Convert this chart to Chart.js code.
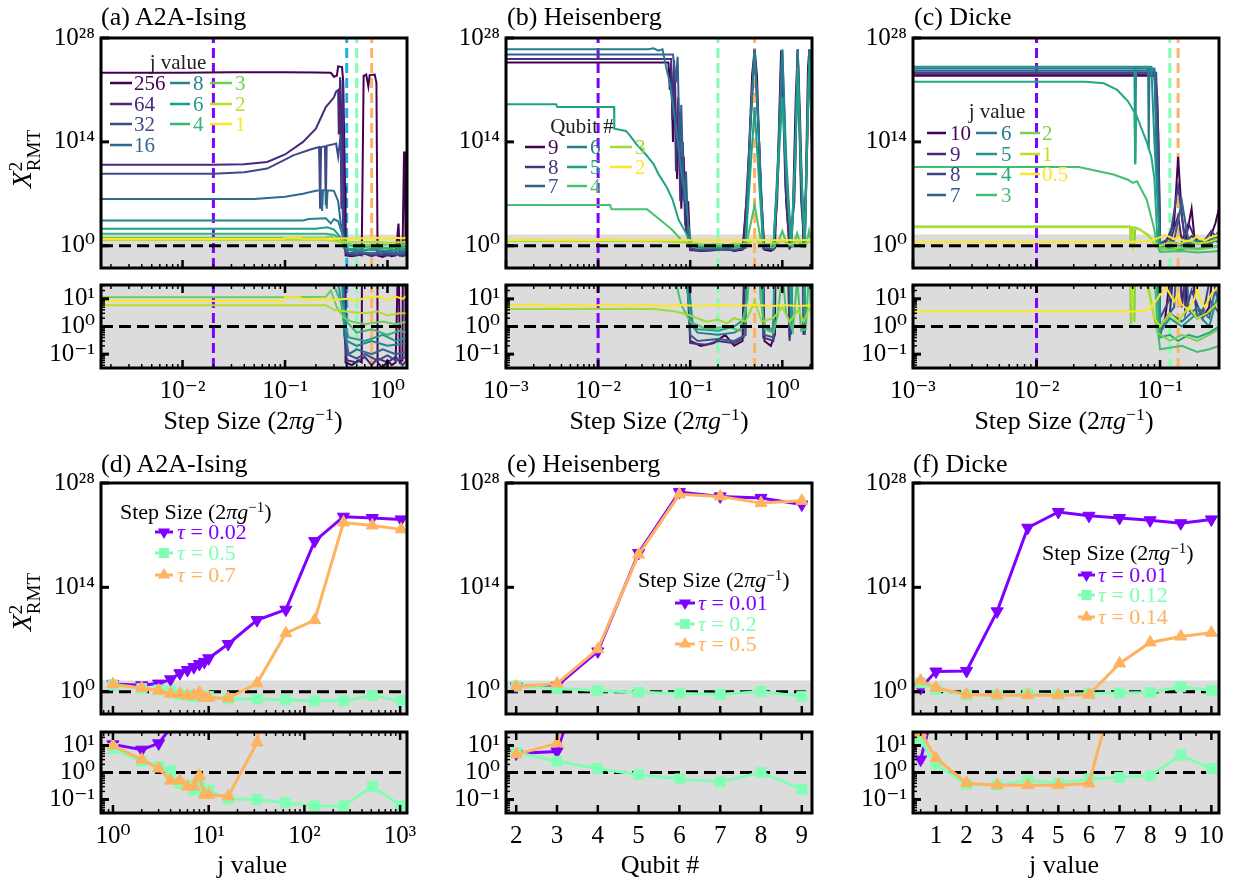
<!DOCTYPE html>
<html>
<head>
<meta charset="utf-8">
<script src="https://cdn.jsdelivr.net/npm/chart.js@4.4.1/dist/chart.umd.min.js"></script>
<style>
html, body { margin: 0; padding: 0; background: #fff; }
body { position: relative; width: 1235px; height: 883px; overflow: hidden; font-family: 'Liberation Serif', 'DejaVu Serif', serif; color: #000; }
.wrap { position: absolute; }
.t { position: absolute; white-space: nowrap; line-height: 1; }
.t sup { font-size: 0.68em; vertical-align: 0.5em; line-height: 0; }
#ov { position: absolute; left: 0; top: 0; z-index: 5; }
.t { z-index: 6; }
</style>
</head>
<body>
<svg id="ov" width="1235" height="883"></svg>
<script>
// ---------- (a) A2A-Ising : chi2 vs step size, one curve per j ----------
const aLabels = ['256', '64', '32', '16', '8', '6', '4', '3', '2', '1'];
const aColors = ['#440154', '#482878', '#3e4989', '#31688e', '#26828e', '#1f9e89', '#35b779', '#6ece58', '#b5de2b', '#fde725'];
const a256 = [[0.0016,2e23],[0.01,2e23],[0.03,2.5e23],[0.1,2.5e23],[0.2,2.2e23],[0.28,2e23],[0.3,6e22],[0.32,8e22],[0.33,1.5e24],[0.36,1.2e24],[0.37,1e22],[0.385,1e8],[0.39,0.05],[0.45,0.04],[0.52,0.06],[0.56,0.05],[0.585,8e22],[0.62,1.2e23],[0.65,3e21],[0.67,1e23],[0.75,1.2e23],[0.78,1e22],[0.8,0.05],[0.9,0.03],[1.0,0.06],[1.1,0.04],[1.2,0.05],[1.28,1e3],[1.32,0.05],[1.4,0.06],[1.45,5e12],[1.48,1e11],[1.5,0.08],[1.55,0.05]];
const a64 = [[0.0016,8e10],[0.02,8e10],[0.04,1e11],[0.067,2e11],[0.1,2e12],[0.15,1e14],[0.2,6e15],[0.25,5e18],[0.28,3e19],[0.3,1e20],[0.315,6e20],[0.33,1e21],[0.335,1e15],[0.345,5e22],[0.355,1e5],[0.365,2e22],[0.38,0.5],[0.4,0.06],[0.5,0.05],[0.6,0.08],[0.7,0.04],[0.8,0.07],[1.0,0.05],[1.2,0.08],[1.4,0.04],[1.55,0.06]];
const a32 = [[0.0016,5e9],[0.02,5e9],[0.04,8e9],[0.067,2.5e10],[0.1,4e11],[0.12,1.5e12],[0.18,1e13],[0.215,2e13],[0.22,1e5],[0.225,2e13],[0.245,2.5e13],[0.25,3e5],[0.255,3e13],[0.3,5e13],[0.315,6e13],[0.33,1e12],[0.35,1e15],[0.37,100],[0.4,0.1],[0.5,0.07],[0.6,0.1],[0.8,0.06],[1.0,0.09],[1.2,0.06],[1.55,0.08]];
const a16 = [[0.0016,2e6],[0.05,2e6],[0.1,4e6],[0.15,1e7],[0.2,2.5e7],[0.225,3e7],[0.23,5e4],[0.235,3e7],[0.25,3.5e7],[0.255,1e5],[0.26,3e7],[0.3,2.5e7],[0.33,1e6],[0.35,1e3],[0.38,0.5],[0.42,0.1],[0.5,0.15],[0.7,0.1],[0.9,0.15],[1.2,0.1],[1.55,0.12]];
const a8 = [[0.0016,2.5e3],[0.15,2.5e3],[0.17,4e3],[0.25,5e3],[0.28,1e3],[0.3,4e3],[0.33,2e3],[0.36,50],[0.4,0.3],[0.5,0.2],[0.7,0.3],[1.0,0.2],[1.55,0.25]];
const a6 = [[0.0016,200],[0.2,200],[0.26,300],[0.3,150],[0.34,20],[0.38,1],[0.42,0.4],[0.6,0.3],[0.9,0.5],[1.2,0.3],[1.55,0.4]];
const a4 = [[0.0016,40],[0.25,40],[0.3,30],[0.35,8],[0.4,1.5],[0.5,0.6],[0.7,0.8],[1.0,0.5],[1.3,0.7],[1.55,0.6]];
const a3 = [[0.0016,11.5],[0.1,11.5],[0.25,12],[0.28,20],[0.32,5],[0.38,2],[0.45,1.5],[0.6,1.2],[0.9,1.5],[1.2,1.2],[1.55,1.5]];
const a2 = [[0.0016,5.8],[0.25,5.8],[0.3,4],[0.4,3.5],[0.6,3],[0.8,3.5],[1.0,2.5],[1.3,3],[1.55,3]];
const a1 = [[0.0016,8.3],[0.098,8.3],[0.1,11.5],[0.14,11.5],[0.145,9.5],[0.3,9],[0.4,10],[0.5,8],[0.6,11],[0.8,12],[1.0,9],[1.2,12],[1.4,10],[1.55,13]];
const aCurves = [a256, a64, a32, a16, a8, a6, a4, a3, a2, a1];
const aTaus = [0.02, 0.4, 0.5, 0.7];
const aTauColors = ['#8000ff', '#1ab4ea', '#80ffb4', '#ffb360'];

// ---------- (b) Heisenberg : one curve per qubit number ----------
const bLabels = ['9', '8', '7', '6', '5', '4', '3', '2'];
const bColors = ['#440154', '#46327e', '#365c8d', '#277f8e', '#1fa187', '#4ac16d', '#a0da39', '#fde725'];
const b9 = [[0.001,5e24],[0.058,5e24],[0.06,1e21],[0.062,4e24],[0.065,1e14],[0.068,3e23],[0.072,1e9],[0.076,1e18],[0.08,1e5],[0.085,1e12],[0.09,100],[0.095,1e6],[0.1,0.3],[0.13,0.2],[0.18,0.25],[0.24,0.5],[0.3,0.2],[0.37,0.3],[0.42,1e8],[0.47,1e23],[0.5,3e26],[0.53,1e23],[0.58,1e8],[0.64,0.3],[0.75,0.2],[0.83,0.5],[0.9,1e12],[0.97,2e26],[1.03,1e20],[1.1,1e6],[1.2,0.4],[1.3,1e4],[1.4,1e20],[1.47,3e26],[1.55,1e18],[1.7,0.5],[1.8,1e8],[1.9,1e24],[1.97,3e26],[2.05,1e20],[2.1,1e12]];
const b8 = [[0.001,1.5e25],[0.062,1.5e25],[0.064,1e17],[0.067,1e25],[0.07,1e10],[0.074,1e20],[0.078,1e6],[0.083,1e14],[0.088,1e3],[0.095,10],[0.1,0.25],[0.15,0.22],[0.2,0.3],[0.3,0.25],[0.38,0.4],[0.44,1e14],[0.5,2e26],[0.56,1e14],[0.62,0.4],[0.8,0.3],[0.88,1e6],[0.98,2e26],[1.08,1e8],[1.2,0.3],[1.35,1e6],[1.47,2e26],[1.6,1e6],[1.75,0.5],[1.85,1e12],[1.95,2e26],[2.1,1e14]];
const b7 = [[0.001,6e25],[0.065,6e25],[0.07,1e22],[0.073,3e25],[0.077,1e12],[0.08,1e19],[0.085,1e6],[0.09,1e10],[0.095,100],[0.1,0.5],[0.12,0.3],[0.2,0.35],[0.3,0.3],[0.4,0.5],[0.45,1e16],[0.5,2e26],[0.55,1e16],[0.63,0.5],[0.8,0.4],[0.9,1e10],[1.0,2e26],[1.1,1e10],[1.25,0.5],[1.38,1e10],[1.47,2e26],[1.58,1e10],[1.75,0.5],[1.88,1e16],[1.97,2e26],[2.1,1e16]];
const b6 = [[0.001,3e26],[0.035,3e26],[0.04,4e26],[0.045,2e26],[0.05,3e26],[0.055,1e24],[0.06,1e22],[0.064,3e19],[0.07,1e16],[0.075,1e13],[0.08,1e10],[0.085,1e8],[0.09,1e6],[0.095,1e3],[0.1,10],[0.107,1],[0.12,0.6],[0.2,0.5],[0.3,0.6],[0.4,1],[0.45,1e16],[0.5,3e26],[0.55,1e16],[0.62,1],[0.8,0.6],[0.9,1e12],[1.0,3e26],[1.1,1e12],[1.25,0.8],[1.38,1e12],[1.47,3e26],[1.58,1e12],[1.75,0.8],[1.88,1e18],[1.97,3e26],[2.1,1e18]];
const b5 = [[0.001,1.2e19],[0.0035,1.2e19],[0.0036,5e18],[0.0149,5e18],[0.015,6e15],[0.02,3e15],[0.022,8e14],[0.026,5e13],[0.033,2e12],[0.04,1e11],[0.045,5e9],[0.055,1e8],[0.064,2e6],[0.075,3e3],[0.09,50],[0.1,3],[0.107,1],[0.12,0.8],[0.2,0.7],[0.3,1],[0.4,2],[0.45,1e10],[0.5,5e18],[0.55,1e10],[0.62,1],[0.8,0.8],[0.9,1e10],[1.0,1e20],[1.1,1e10],[1.25,1],[1.38,1e12],[1.47,1e24],[1.58,1e12],[1.75,1],[1.88,1e16],[1.97,1e25],[2.1,1e16]];
const b4 = [[0.001,3e5],[0.0135,3e5],[0.014,8e4],[0.034,8e4],[0.045,5e3],[0.064,130],[0.08,6],[0.1,1.5],[0.15,0.8],[0.25,1],[0.35,0.7],[0.42,10],[0.5,3e5],[0.58,10],[0.65,0.8],[0.8,0.6],[0.9,3],[1.0,100],[1.1,3],[1.3,0.7],[1.45,50],[1.6,0.7],[1.8,0.8],[1.95,100],[2.1,1]];
const b3 = [[0.001,4.3],[0.04,4.3],[0.07,3.5],[0.1,2.5],[0.15,1.5],[0.2,1.8],[0.25,1.3],[0.3,2],[0.4,1.5],[0.5,8],[0.6,1.5],[0.8,2],[1.0,5],[1.2,1.5],[1.5,4],[1.7,1.5],[2.0,5],[2.1,2]];
const b2 = [[0.001,5.6],[0.002,6.2],[0.003,5.4],[0.005,6.1],[0.008,5.5],[0.012,6.2],[0.02,5.5],[0.03,6],[0.05,5.5],[0.08,6],[0.12,5.5],[0.2,6.1],[0.3,5.5],[0.5,6],[0.8,5.5],[1.0,6],[1.5,5.5],[2.1,5.8]];
const bCurves = [b9, b8, b7, b6, b5, b4, b3, b2];
const bTaus = [0.01, 0.2, 0.5];
const bTauColors = ['#8000ff', '#80ffb4', '#ffb360'];

// ---------- (c) Dicke : one curve per j ----------
const cLabels = ['10', '9', '8', '7', '6', '5', '4', '3', '2', '1', '0.5'];
const cColors = ['#440154', '#482475', '#414487', '#355f8d', '#2a788e', '#21918c', '#22a884', '#44bf70', '#7ad151', '#bddf26', '#fde725'];
const c10 = [[0.001,8e22],[0.09,8e22],[0.095,1e20],[0.1,0.5],[0.11,2],[0.12,50],[0.13,1e3],[0.14,1e12],[0.15,1e4],[0.16,3],[0.18,1e5],[0.19,10],[0.22,2],[0.25,5],[0.28,1e3],[0.3,1e5]];
const c9 = [[0.001,1.3e23],[0.092,1.3e23],[0.097,1e15],[0.1,1],[0.12,3],[0.14,1e4],[0.15,5],[0.17,1e3],[0.2,2],[0.25,3],[0.3,10]];
const c8 = [[0.001,2e23],[0.093,2e23],[0.098,1e10],[0.1,2],[0.12,10],[0.14,1e8],[0.16,3],[0.18,20],[0.22,2],[0.26,100],[0.3,5]];
const c7 = [[0.001,4e23],[0.09,4e23],[0.095,1e12],[0.1,1],[0.13,5],[0.15,1e6],[0.17,4],[0.2,2],[0.25,10],[0.3,3]];
const c6 = [[0.001,8e23],[0.08,8e23],[0.081,1e13],[0.082,8e23],[0.09,8e23],[0.095,1e8],[0.1,0.8],[0.12,3],[0.15,1.5],[0.2,5],[0.25,2],[0.3,100]];
const c5 = [[0.001,1.3e24],[0.062,1.3e24],[0.063,1e11],[0.064,1.3e24],[0.085,1.3e24],[0.09,1e14],[0.1,0.6],[0.12,2],[0.15,1],[0.2,3],[0.25,1],[0.3,20]];
const c4 = [[0.001,1.3e22],[0.025,1.3e22],[0.035,8e21],[0.045,1e21],[0.055,3e19],[0.062,1e18],[0.063,1e11],[0.064,5e17],[0.07,1e16],[0.078,1e14],[0.085,1e12],[0.09,1e9],[0.095,10],[0.1,0.4],[0.12,0.5],[0.14,0.3],[0.17,0.5],[0.2,0.4],[0.25,0.6],[0.3,1]];
const c3 = [[0.001,4e10],[0.022,4e10],[0.042,4e9],[0.055,8e8],[0.06,3e8],[0.065,5e8],[0.078,1.6e6],[0.089,300],[0.095,1],[0.1,0.15],[0.15,0.2],[0.2,0.12],[0.25,0.15],[0.3,0.2]];
const c2 = [[0.001,400],[0.057,400],[0.058,1.2],[0.059,400],[0.062,1.5],[0.063,300],[0.069,150],[0.08,30],[0.089,2.5],[0.095,0.6],[0.12,0.3],[0.15,0.5],[0.2,0.3],[0.25,0.5],[0.3,0.8]];
const c1 = [[0.001,300],[0.057,300],[0.06,1.5],[0.061,250],[0.07,120],[0.08,20],[0.09,2],[0.1,1],[0.12,3],[0.14,1.5],[0.17,5],[0.2,2],[0.24,3],[0.3,8]];
const c05 = [[0.001,3.5],[0.06,3.5],[0.075,3.6],[0.085,5],[0.095,10],[0.105,20],[0.11,30],[0.12,15],[0.13,8],[0.14,15],[0.15,6],[0.17,4],[0.19,10],[0.2,25],[0.21,10],[0.23,5],[0.26,15],[0.3,30]];
const cCurves = [c10, c9, c8, c7, c6, c5, c4, c3, c2, c1, c05];
const cTaus = [0.01, 0.12, 0.14];
const cTauColors = ['#8000ff', '#80ffb4', '#ffb360'];

// ---------- (d) A2A-Ising vs j ----------
const dJ = [1, 2, 3, 4, 5, 6, 7, 8, 9, 10, 16, 32, 64, 128, 256, 512, 1024];
const dTau002 = [11, 7, 12, 45, 300, 800, 2000, 5000, 1e4, 3e4, 2.5e6, 4e9, 1e11, 1.6e20, 3e23, 2e23, 1.3e23];
const dTau05 = [7.6, 2.6, 1.7, 1.15, 0.39, 0.34, 0.22, 0.35, 0.22, 0.22, 0.105, 0.1, 0.076, 0.058, 0.058, 0.31, 0.058];
const dTau07 = [10, 3, 1.4, 0.5, 0.5, 0.3, 0.3, 0.76, 0.15, 0.15, 0.13, 13, 7e7, 4e9, 5e22, 2e22, 6e21];

// ---------- (e) Heisenberg vs qubit # ----------
const eQubits = [2, 3, 4, 5, 6, 7, 8, 9];
const eTau001 = [5, 6, 2.5e5, 4e18, 6e26, 1.6e26, 1e26, 1.3e25];
const eTau02 = [5.5, 2.6, 1.4, 0.83, 0.58, 0.45, 1.0, 0.24];
const eTau05 = [4.7, 12, 5e5, 2.5e18, 3e26, 1.6e26, 2e25, 4e25];

// ---------- (f) Dicke vs j ----------
const fJ = [0.5, 1, 2, 3, 4, 5, 6, 7, 8, 9, 10];
const fTau001 = [3, 500, 600, 6e10, 1e22, 1.3e24, 4e23, 2e23, 1e23, 4e22, 1.3e23];
const fTau012 = [15, 2, 0.37, 0.34, 0.5, 0.41, 0.58, 0.66, 0.76, 4.4, 1.4];
const fTau014 = [30, 3.4, 0.41, 0.34, 0.34, 0.34, 0.39, 6e3, 4e6, 2.5e7, 8e7];

// ---------- axes ----------
const yMainRange = [1e-3, 1e28];
const ySubRange = [0.0316, 31.6];
const grayTop = 31.6;
const yMainTicks = [1, 1e14, 1e28];
const yMainLabels = ['10⁰', '10¹⁴', '10²⁸'];
const ySubTicks = [0.1, 1, 10];
const ySubLabels = ['10⁻¹', '10⁰', '10¹'];
const xTicksA = [0.01, 0.1, 1], xLabelsA = ['10⁻²', '10⁻¹', '10⁰'];
const xTicksB = [0.001, 0.01, 0.1, 1], xLabelsB = ['10⁻³', '10⁻²', '10⁻¹', '10⁰'];
const xTicksC = [0.001, 0.01, 0.1], xLabelsC = ['10⁻³', '10⁻²', '10⁻¹'];
const xTicksD = [1, 10, 100, 1000], xLabelsD = ['10⁰', '10¹', '10²', '10³'];
const xTicksE = [2, 3, 4, 5, 6, 7, 8, 9], xLabelsE = ['2', '3', '4', '5', '6', '7', '8', '9'];
const xTicksF = [1, 2, 3, 4, 5, 6, 7, 8, 9, 10], xLabelsF = ['1', '2', '3', '4', '5', '6', '7', '8', '9', '10'];

const SERIF = "'Liberation Serif', 'DejaVu Serif', serif";
Chart.defaults.font.family = SERIF;
Chart.defaults.color = '#000';

function logMinor(min, max) {
    const out = [];
    for (let e = Math.floor(Math.log10(min)); e <= Math.ceil(Math.log10(max)); e++) {
        for (let m = 2; m <= 9; m++) {
            const v = m * Math.pow(10, e);
            if (v > min && v < max) out.push(v);
        }
    }
    return out;
}

// draws the box and inward ticks like the matplotlib original
const framePlugin = {
    id: 'frame',
    afterDatasetsDraw(chart) {
        const s = chart.canvas._spec;
        const { ctx, chartArea: a } = chart;
        const X = chart.scales.x, Y = chart.scales.y;
        ctx.save();
        ctx.strokeStyle = '#000';
        const mark = (p, len, w, side) => {
            ctx.lineWidth = w;
            ctx.beginPath();
            if (side === 'bottom') { ctx.moveTo(p, a.bottom); ctx.lineTo(p, a.bottom - len); }
            if (side === 'top') { ctx.moveTo(p, a.top); ctx.lineTo(p, a.top + len); }
            if (side === 'left') { ctx.moveTo(a.left, p); ctx.lineTo(a.left + len, p); }
            ctx.stroke();
        };
        const inX = v => v >= X.min && v <= X.max;
        const inY = v => v >= Y.min && v <= Y.max;
        s.xSides.forEach(side => {
            s.xMajor.filter(inX).forEach(v => mark(X.getPixelForValue(v), 8, 2.5, side));
            s.xMinor.filter(inX).forEach(v => mark(X.getPixelForValue(v), 4, 1.5, side));
        });
        s.yMajor.filter(inY).forEach(v => mark(Y.getPixelForValue(v), 8, 3, 'left'));
        s.yMinor.filter(inY).forEach(v => mark(Y.getPixelForValue(v), 4, 1.5, 'left'));
        ctx.lineWidth = 3;
        ctx.strokeRect(a.left, a.top, a.right - a.left, a.bottom - a.top);
        ctx.restore();
    }
};

function panel(box, sp) {
    // margins around the plot area; they must exceed half a tick label so chart area lands on the box
    const PL = 90, PR = 25, PT = 28, PB = sp.xLabels ? 52 : 28;
    const [l, t, r, b] = box;
    const wrap = document.createElement('div');
    wrap.className = 'wrap';
    wrap.style.left = (l - PL) + 'px';
    wrap.style.top = (t - PT) + 'px';
    const cv = document.createElement('canvas');
    cv.width = r - l + PL + PR;
    cv.height = b - t + PT + PB;
    wrap.appendChild(cv);
    document.body.appendChild(wrap);
    cv._spec = sp;

    const datasets = [];
    datasets.push({ data: [{ x: sp.xr[0], y: grayTop }, { x: sp.xr[1], y: grayTop }], fill: 'start',
        backgroundColor: '#dcdcdc', borderWidth: 0, pointRadius: 0, order: 40, clip: 0 });
    datasets.push({ data: [{ x: sp.xr[0], y: 1 }, { x: sp.xr[1], y: 1 }], borderColor: '#000', borderWidth: 3,
        borderDash: [12, 6], pointRadius: 0, order: sp.dashOnTop ? 0 : 30, clip: 0 });
    (sp.taus || []).forEach((tau, i) => datasets.push({ data: [{ x: tau, y: sp.yr[0] }, { x: tau, y: sp.yr[1] }],
        borderColor: sp.tauColors[i], borderWidth: 3, borderDash: [10, 5], pointRadius: 0, order: 35, clip: 0 }));
    sp.series.forEach(s => datasets.push(s));

    new Chart(cv, {
        type: 'line',
        data: { datasets },
        options: {
            responsive: false,
            animation: false,
            events: [],
            layout: { padding: { top: PT, right: PR, left: 0, bottom: 0 } },
            plugins: { legend: { display: false }, tooltip: { enabled: false } },
            scales: {
                x: {
                    type: sp.xType, min: sp.xr[0], max: sp.xr[1],
                    grid: { display: false, drawTicks: false }, border: { display: false },
                    ticks: { display: !!sp.xLabels, autoSkip: false, maxRotation: 0, padding: 8,
                        font: { size: 25 }, callback: (v, i) => sp.xLabels ? sp.xLabels[i] : '' },
                    afterBuildTicks: s => { s.ticks = sp.xMajor.map(v => ({ value: v })); },
                    afterFit: s => { s.height = PB; }
                },
                y: {
                    type: 'logarithmic', min: sp.yr[0], max: sp.yr[1],
                    grid: { display: false, drawTicks: false }, border: { display: false },
                    ticks: { autoSkip: false, padding: 6, font: { size: 25 }, callback: (v, i) => sp.yLabels[i] },
                    afterBuildTicks: s => { s.ticks = sp.yMajor.map(v => ({ value: v })); },
                    afterFit: s => { s.width = PL; }
                }
            }
        },
        plugins: [framePlugin]
    });
}

function curveSets(curves, colors) {
    return curves.map((c, i) => ({
        data: c.map(p => ({ x: p[0], y: p[1] })),
        borderColor: colors[i], borderWidth: 2, pointRadius: 0, order: curves.length - i + 1, clip: 0
    }));
}

function markerSet(xs, ys, color, style, rot, order) {
    return {
        data: xs.map((x, i) => ({ x, y: ys[i] })),
        borderColor: color, backgroundColor: color, borderWidth: 3,
        pointStyle: style, pointRotation: rot, pointRadius: 7, pointBorderWidth: 1,
        pointBackgroundColor: color, pointBorderColor: color, order, clip: 0
    };
}

const PURPLE = '#8000ff', GREEN = '#80ffb4', ORANGE = '#ffb360';

// boxes of the plot areas [left, top, right, bottom]
const boxes = {
    a: [101, 38, 407, 268], b: [506, 38, 812, 268], c: [913, 38, 1219, 268],
    as: [101, 285, 407, 368], bs: [506, 285, 812, 368], cs: [913, 285, 1219, 368],
    d: [101, 483, 407, 714], e: [506, 483, 812, 714], f: [913, 483, 1219, 714],
    ds: [101, 732, 407, 813], es: [506, 732, 812, 813], fs: [913, 732, 1219, 813]
};

const topSpecs = [
    { key: 'a', xr: [0.0016, 1.55], curves: aCurves, colors: aColors, taus: aTaus, tauColors: aTauColors, xMajor: xTicksA, xLab: xLabelsA },
    { key: 'b', xr: [0.001, 2.1], curves: bCurves, colors: bColors, taus: bTaus, tauColors: bTauColors, xMajor: xTicksB, xLab: xLabelsB },
    { key: 'c', xr: [0.001, 0.3], curves: cCurves, colors: cColors, taus: cTaus, tauColors: cTauColors, xMajor: xTicksC, xLab: xLabelsC }
];
topSpecs.forEach(p => {
    const common = { xType: 'logarithmic', xr: p.xr, taus: p.taus, tauColors: p.tauColors, dashOnTop: true,
        xMajor: p.xMajor, xMinor: logMinor(p.xr[0], p.xr[1]) };
    panel(boxes[p.key], Object.assign({}, common, { yr: yMainRange, yMajor: yMainTicks, yLabels: yMainLabels, yMinor: [],
        xSides: ['bottom'], series: curveSets(p.curves, p.colors) }));
    panel(boxes[p.key + 's'], Object.assign({}, common, { yr: ySubRange, yMajor: ySubTicks, yLabels: ySubLabels,
        yMinor: logMinor(ySubRange[0], ySubRange[1]), xSides: ['top', 'bottom'], xLabels: p.xLab, series: curveSets(p.curves, p.colors) }));
});

const half = [0.5, 1.5, 2.5, 3.5, 4.5, 5.5, 6.5, 7.5, 8.5, 9.5];
const botSpecs = [
    { key: 'd', xType: 'logarithmic', xr: [0.75, 1180], xs: dJ, ys: [dTau002, dTau05, dTau07], xMajor: xTicksD, xMinor: logMinor(0.75, 1180), xLab: xLabelsD },
    { key: 'e', xType: 'linear', xr: [1.75, 9.25], xs: eQubits, ys: [eTau001, eTau02, eTau05], xMajor: xTicksE, xMinor: [], xLab: xLabelsE },
    { key: 'f', xType: 'linear', xr: [0.25, 10.25], xs: fJ, ys: [fTau001, fTau012, fTau014], xMajor: xTicksF, xMinor: half, xLab: xLabelsF }
];
botSpecs.forEach(p => {
    const mk = () => [
        markerSet(p.xs, p.ys[0], PURPLE, 'triangle', 180, 3),
        markerSet(p.xs, p.ys[1], GREEN, 'rect', 0, 2),
        markerSet(p.xs, p.ys[2], ORANGE, 'triangle', 0, 1)
    ];
    const common = { xType: p.xType, xr: p.xr, dashOnTop: false, xMajor: p.xMajor, xMinor: p.xMinor };
    panel(boxes[p.key], Object.assign({}, common, { yr: yMainRange, yMajor: yMainTicks, yLabels: yMainLabels, yMinor: [],
        xSides: ['bottom'], series: mk() }));
    panel(boxes[p.key + 's'], Object.assign({}, common, { yr: ySubRange, yMajor: ySubTicks, yLabels: ySubLabels,
        yMinor: logMinor(ySubRange[0], ySubRange[1]), xSides: ['top', 'bottom'], xLabels: p.xLab, series: mk() }));
});

// ---------- text and legends (html / svg overlay) ----------
const ov = document.getElementById('ov');
function svg(tag, attrs) {
    const el = document.createElementNS('http://www.w3.org/2000/svg', tag);
    for (const k in attrs) el.setAttribute(k, attrs[k]);
    ov.appendChild(el);
}
function text(x, y, html, size, opts = {}) {
    const d = document.createElement('div');
    d.className = 't';
    d.innerHTML = html;
    d.style.fontSize = size + 'px';
    d.style.left = x + 'px';
    d.style.top = (y - size / 2) + 'px';
    if (opts.color) d.style.color = opts.color;
    if (opts.center) d.style.transform = 'translateX(-50%)';
    if (opts.rotate) { d.style.transform = 'translate(-50%, 0) rotate(-90deg)'; d.style.transformOrigin = '50% 50%'; }
    document.body.appendChild(d);
}

text(101, 17, '(a) A2A-Ising', 26);
text(507, 17, '(b) Heisenberg', 26);
text(914, 17, '(c) Dicke', 26);
text(101, 464, '(d) A2A-Ising', 26);
text(507, 464, '(e) Heisenberg', 26);
text(913, 464, '(f) Dicke', 26);

const chiLabel = '<i>X</i><span style="display:inline-block;vertical-align:-0.45em;line-height:0.95;font-size:0.68em"><span style="display:block">2</span><span style="display:block">RMT</span></span>';
text(25, 155, chiLabel, 28, { rotate: true });
text(25, 598, chiLabel, 28, { rotate: true });

const stepLabel = 'Step Size (2<i>πg</i><sup>−1</sup>)';
text(253, 421, stepLabel, 26, { center: true });
text(659, 421, stepLabel, 26, { center: true });
text(1064, 421, stepLabel, 26, { center: true });
text(252, 865, 'j value', 26, { center: true });
text(660, 865, 'Qubit #', 26, { center: true });
text(1064, 865, 'j value', 26, { center: true });

// line legends of the top row
function lineLegend(title, tx, ty, cols, rows, groups, labels, colors) {
    text(tx, ty, title, 21, { center: true, color: '#222' });
    groups.forEach((g, c) => g.forEach((idx, r) => {
        const [x1, x2, xt] = cols[c];
        svg('line', { x1, x2, y1: rows[r], y2: rows[r], stroke: colors[idx], 'stroke-width': 2.5 });
        text(xt, rows[r], labels[idx], 21, { color: colors[idx] });
    }));
}
lineLegend('j value', 178, 62, [[110, 132, 134], [170, 190, 193], [210, 232, 235]], [83, 104, 124, 145],
    [[0, 1, 2, 3], [4, 5, 6], [7, 8, 9]], aLabels, aColors);
lineLegend('Qubit #', 582, 126, [[525, 545, 548], [567, 587, 590], [610, 632, 635]], [147, 167, 186],
    [[0, 1, 2], [3, 4, 5], [6, 7]], bLabels, bColors);
lineLegend('j value', 997, 111, [[927, 946, 950], [976, 997, 1001], [1020, 1040, 1042]], [133, 154, 174, 195],
    [[0, 1, 2, 3], [4, 5, 6, 7], [8, 9, 10]], cLabels, cColors);

// marker legends of the bottom row
function markerLegend(tx, ty, x1, x2, xt, rows, tauTexts) {
    text(tx, ty, 'Step Size (2<i>πg</i><sup>−1</sup>)', 22);
    const cols = [PURPLE, GREEN, ORANGE];
    rows.forEach((y, i) => {
        const cx = (x1 + x2) / 2, c = cols[i], r = 7;
        svg('line', { x1, x2, y1: y, y2: y, stroke: c, 'stroke-width': 3 });
        if (i === 0) svg('polygon', { points: `${cx},${y + r} ${cx - r * 0.87},${y - r / 2} ${cx + r * 0.87},${y - r / 2}`, fill: c });
        if (i === 1) svg('rect', { x: cx - 5, y: y - 5, width: 10, height: 10, fill: c });
        if (i === 2) svg('polygon', { points: `${cx},${y - r} ${cx - r * 0.87},${y + r / 2} ${cx + r * 0.87},${y + r / 2}`, fill: c });
        text(xt, y, '<i>τ</i> = ' + tauTexts[i], 22, { color: c });
    });
}
markerLegend(120, 512, 155, 173, 177, [532, 553, 575], ['0.02', '0.5', '0.7']);
markerLegend(638, 580, 675, 695, 698, [603, 624, 644], ['0.01', '0.2', '0.5']);
markerLegend(1042, 553, 1078, 1095, 1098, [575, 595, 617], ['0.01', '0.12', '0.14']);
</script>
</body>
</html>
